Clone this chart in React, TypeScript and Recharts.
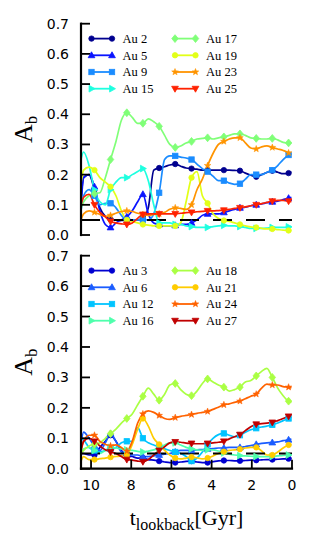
import React from 'react';
import { LineChart, Line, XAxis, YAxis, Legend } from 'recharts';

// lookback time grid (Gyr)
const TIME = [10.5, 10.37, 10.1, 9.83, 9.56, 9.29, 9.03, 8.76, 8.49, 8.22, 7.95, 7.68, 7.42, 7.15, 6.88, 6.61, 6.34, 6.08, 5.81, 5.54, 5.27, 5.0, 4.73, 4.46, 4.2, 3.93, 3.66, 3.39, 3.12, 2.86, 2.59, 2.32, 2.05, 1.78, 1.51, 1.25, 0.98, 0.71, 0.44, 0.17, 0.03];

// top panel
const AU2 = [0.12, 0.19, 0.2, 0.15, 0.09, 0.062, 0.052, 0.05, 0.048, 0.05, 0.05, 0.05, 0.055, 0.09, 0.215, 0.222, 0.226, 0.232, 0.235, 0.228, 0.222, 0.22, 0.218, 0.215, 0.215, 0.215, 0.215, 0.215, 0.215, 0.214, 0.213, 0.205, 0.198, 0.193, 0.2, 0.207, 0.213, 0.208, 0.203, 0.205, 0.21];
const AU5 = [0.09, 0.19, 0.2, 0.16, 0.08, 0.035, 0.025, 0.04, 0.05, 0.06, 0.08, 0.11, 0.135, 0.07, 0.04, 0.035, 0.03, 0.03, 0.032, 0.035, 0.035, 0.04, 0.05, 0.065, 0.07, 0.07, 0.07, 0.075, 0.08, 0.085, 0.09, 0.092, 0.097, 0.1, 0.103, 0.107, 0.11, 0.112, 0.117, 0.122, 0.125];
const AU9 = [0.08, 0.13, 0.15, 0.13, 0.1, 0.105, 0.105, 0.09, 0.065, 0.05, 0.05, 0.05, 0.05, 0.05, 0.07, 0.14, 0.25, 0.262, 0.262, 0.258, 0.255, 0.25, 0.235, 0.22, 0.21, 0.195, 0.18, 0.18, 0.172, 0.168, 0.17, 0.185, 0.2, 0.2, 0.2, 0.208, 0.215, 0.23, 0.25, 0.265, 0.27];
const AU15 = [0.25, 0.275, 0.23, 0.15, 0.11, 0.1, 0.15, 0.175, 0.19, 0.19, 0.2, 0.21, 0.22, 0.18, 0.1, 0.04, 0.04, 0.04, 0.035, 0.035, 0.03, 0.028, 0.025, 0.025, 0.025, 0.028, 0.03, 0.032, 0.03, 0.03, 0.028, 0.025, 0.022, 0.022, 0.022, 0.023, 0.025, 0.025, 0.025, 0.027, 0.028];
const AU17 = [0.09, 0.11, 0.13, 0.137, 0.14, 0.19, 0.25, 0.31, 0.38, 0.405, 0.39, 0.37, 0.37, 0.385, 0.375, 0.36, 0.33, 0.3, 0.29, 0.295, 0.305, 0.31, 0.318, 0.32, 0.322, 0.318, 0.322, 0.325, 0.33, 0.335, 0.335, 0.33, 0.322, 0.32, 0.318, 0.318, 0.32, 0.315, 0.307, 0.305, 0.305];
const AU19 = [0.17, 0.215, 0.225, 0.215, 0.19, 0.175, 0.16, 0.13, 0.08, 0.05, 0.045, 0.04, 0.035, 0.033, 0.03, 0.03, 0.03, 0.03, 0.03, 0.04, 0.11, 0.19, 0.21, 0.13, 0.105, 0.07, 0.055, 0.048, 0.045, 0.04, 0.035, 0.03, 0.027, 0.025, 0.022, 0.02, 0.02, 0.018, 0.016, 0.015, 0.015];
const AU23 = [0.05, 0.07, 0.08, 0.075, 0.068, 0.062, 0.065, 0.072, 0.078, 0.08, 0.078, 0.072, 0.068, 0.065, 0.068, 0.07, 0.075, 0.085, 0.09, 0.088, 0.085, 0.1, 0.15, 0.185, 0.23, 0.27, 0.3, 0.31, 0.318, 0.322, 0.322, 0.305, 0.288, 0.285, 0.292, 0.295, 0.29, 0.285, 0.28, 0.272, 0.265];
const AU25 = [0.1, 0.125, 0.135, 0.1, 0.075, 0.06, 0.045, 0.04, 0.037, 0.035, 0.04, 0.055, 0.068, 0.07, 0.07, 0.07, 0.07, 0.07, 0.07, 0.072, 0.074, 0.075, 0.077, 0.078, 0.08, 0.08, 0.081, 0.082, 0.085, 0.088, 0.09, 0.093, 0.097, 0.1, 0.104, 0.108, 0.112, 0.115, 0.115, 0.112, 0.11];

// bottom panel
const AU3 = [0.05, 0.05, 0.045, 0.045, 0.07, 0.09, 0.11, 0.09, 0.06, 0.045, 0.04, 0.035, 0.035, 0.03, 0.028, 0.025, 0.022, 0.02, 0.02, 0.022, 0.024, 0.025, 0.022, 0.02, 0.02, 0.023, 0.026, 0.027, 0.027, 0.026, 0.026, 0.027, 0.028, 0.028, 0.029, 0.03, 0.03, 0.031, 0.032, 0.033, 0.034];
const AU6 = [0.08, 0.12, 0.1, 0.075, 0.06, 0.085, 0.115, 0.09, 0.055, 0.05, 0.045, 0.045, 0.04, 0.04, 0.042, 0.045, 0.048, 0.05, 0.055, 0.06, 0.06, 0.06, 0.062, 0.063, 0.065, 0.066, 0.068, 0.068, 0.07, 0.07, 0.07, 0.073, 0.076, 0.08, 0.083, 0.085, 0.086, 0.088, 0.092, 0.095, 0.097];
const AU12 = [0.1, 0.095, 0.07, 0.06, 0.055, 0.06, 0.065, 0.07, 0.085, 0.09, 0.09, 0.135, 0.1, 0.085, 0.078, 0.072, 0.065, 0.06, 0.055, 0.05, 0.04, 0.025, 0.035, 0.055, 0.08, 0.1, 0.112, 0.116, 0.11, 0.105, 0.11, 0.12, 0.128, 0.133, 0.137, 0.14, 0.144, 0.15, 0.158, 0.165, 0.17];
const AU16 = [0.05, 0.065, 0.07, 0.06, 0.05, 0.06, 0.07, 0.068, 0.065, 0.062, 0.06, 0.057, 0.055, 0.058, 0.062, 0.068, 0.078, 0.085, 0.085, 0.078, 0.07, 0.065, 0.062, 0.06, 0.062, 0.062, 0.058, 0.052, 0.048, 0.045, 0.043, 0.042, 0.041, 0.04, 0.04, 0.04, 0.04, 0.042, 0.044, 0.045, 0.045];
const AU18 = [0.05, 0.06, 0.075, 0.08, 0.085, 0.1, 0.115, 0.13, 0.15, 0.165, 0.18, 0.21, 0.238, 0.265, 0.245, 0.225, 0.245, 0.275, 0.28, 0.26, 0.245, 0.24, 0.255, 0.28, 0.295, 0.285, 0.275, 0.268, 0.255, 0.26, 0.268, 0.285, 0.29, 0.305, 0.32, 0.33, 0.3, 0.265, 0.24, 0.222, 0.218];
const AU21 = [0.025, 0.04, 0.03, 0.03, 0.033, 0.035, 0.038, 0.04, 0.042, 0.045, 0.08, 0.13, 0.165, 0.14, 0.1, 0.08, 0.06, 0.045, 0.035, 0.032, 0.035, 0.038, 0.036, 0.032, 0.035, 0.042, 0.05, 0.056, 0.06, 0.062, 0.064, 0.068, 0.07, 0.07, 0.058, 0.045, 0.045, 0.055, 0.068, 0.078, 0.08];
const AU24 = [0.06, 0.09, 0.11, 0.11, 0.09, 0.08, 0.075, 0.078, 0.07, 0.058, 0.09, 0.15, 0.18, 0.19, 0.185, 0.175, 0.165, 0.162, 0.168, 0.172, 0.175, 0.178, 0.182, 0.185, 0.188, 0.195, 0.202, 0.21, 0.213, 0.218, 0.222, 0.23, 0.238, 0.245, 0.265, 0.278, 0.275, 0.275, 0.27, 0.268, 0.265];
const AU27 = [0.06, 0.09, 0.1, 0.09, 0.075, 0.062, 0.055, 0.05, 0.04, 0.03, 0.028, 0.025, 0.023, 0.03, 0.045, 0.06, 0.072, 0.085, 0.088, 0.087, 0.084, 0.083, 0.082, 0.082, 0.083, 0.085, 0.087, 0.09, 0.098, 0.105, 0.112, 0.125, 0.138, 0.146, 0.148, 0.15, 0.152, 0.158, 0.165, 0.172, 0.175];

const TOP_NAMES = ['Au 2', 'Au 5', 'Au 9', 'Au 15', 'Au 17', 'Au 19', 'Au 23', 'Au 25'];
const TOP_VALUES = [AU2, AU5, AU9, AU15, AU17, AU19, AU23, AU25];
const BOTTOM_NAMES = ['Au 3', 'Au 6', 'Au 12', 'Au 16', 'Au 18', 'Au 21', 'Au 24', 'Au 27'];
const BOTTOM_VALUES = [AU3, AU6, AU12, AU16, AU18, AU21, AU24, AU27];

// threshold line
const REF_T = [10.5, 0];
const REF_V = [0.05, 0.05];

const X_TICKS = [0, 2, 4, 6, 8, 10];
const Y_TICKS = [0, 0.1, 0.2, 0.3, 0.4, 0.5, 0.6, 0.7];

const STYLE: Record<string, { color: string; marker: string }> = {
  'Au 2': { color: '#00008f', marker: 'circle' },
  'Au 3': { color: '#0000d0', marker: 'circle' },
  'Au 5': { color: '#0a14ff', marker: 'triUp' },
  'Au 6': { color: '#1a5cff', marker: 'triUp' },
  'Au 9': { color: '#1a8cff', marker: 'square' },
  'Au 12': { color: '#00c4ff', marker: 'square' },
  'Au 15': { color: '#1effe0', marker: 'triRight' },
  'Au 16': { color: '#4effac', marker: 'triRight' },
  'Au 17': { color: '#80ff78', marker: 'diamond' },
  'Au 18': { color: '#aaff44', marker: 'diamond' },
  'Au 19': { color: '#e2ff18', marker: 'circle' },
  'Au 21': { color: '#ffcc00', marker: 'circle' },
  'Au 23': { color: '#ff9400', marker: 'star' },
  'Au 24': { color: '#ff6200', marker: 'star' },
  'Au 25': { color: '#ff2200', marker: 'triDown' },
  'Au 27': { color: '#c00000', marker: 'triDown' },
};

const FRAME = { stroke: '#000', strokeWidth: 2.2, strokeLinecap: 'square' as const };
const TICKLINE = { stroke: '#000', strokeWidth: 1.8 };
const TICKFONT = { fill: '#000', fontSize: 14, fontFamily: 'DejaVu Sans' };
const SERIF = 'Liberation Serif';

function buildRows(names: string[], values: number[][]) {
  return TIME.map((t, i) => {
    const row: Record<string, number> = { t };
    names.forEach((n, k) => {
      row[n] = values[k][i];
    });
    return row;
  });
}
const REF_ROWS = REF_T.map((t, i) => ({ t, ref: REF_V[i] }));

function starPoints(cx: number, cy: number, R: number) {
  const pts: string[] = [];
  for (let k = 0; k < 10; k++) {
    const r = k % 2 === 0 ? R : R * 0.42;
    const a = -Math.PI / 2 + (k * Math.PI) / 5;
    pts.push(`${cx + r * Math.cos(a)},${cy + r * Math.sin(a)}`);
  }
  return pts.join(' ');
}

function Marker({ type, cx, cy, color }: { type: string; cx: number; cy: number; color: string }) {
  const s = 2.7;
  const common = { fill: color, stroke: color, strokeWidth: 0.8 };
  switch (type) {
    case 'circle':
      return <circle cx={cx} cy={cy} r={s} {...common} />;
    case 'square':
      return <rect x={cx - s} y={cy - s} width={2 * s} height={2 * s} {...common} />;
    case 'triUp':
      return <polygon points={`${cx},${cy - s * 1.3} ${cx - s * 1.25},${cy + s * 0.9} ${cx + s * 1.25},${cy + s * 0.9}`} {...common} />;
    case 'triDown':
      return <polygon points={`${cx},${cy + s * 1.3} ${cx - s * 1.25},${cy - s * 0.9} ${cx + s * 1.25},${cy - s * 0.9}`} {...common} />;
    case 'triRight':
      return <polygon points={`${cx + s * 1.3},${cy} ${cx - s * 0.9},${cy - s * 1.25} ${cx - s * 0.9},${cy + s * 1.25}`} {...common} />;
    case 'diamond':
      return <polygon points={`${cx},${cy - s * 1.45} ${cx + s * 1.2},${cy} ${cx},${cy + s * 1.45} ${cx - s * 1.2},${cy}`} {...common} />;
    case 'star':
      return <polygon points={starPoints(cx, cy, s * 1.3)} fill={color} stroke={color} strokeWidth={0.5} />;
    default:
      return null;
  }
}

const makeDot = (name: string) => (props: any) => {
  const { cx, cy, index } = props;
  const key = `dot-${name}-${index}`;
  if (cx == null || cy == null || index === 0 || index % 3 !== 0) return <g key={key} />;
  const st = STYLE[name];
  return (
    <g key={key}>
      <Marker type={st.marker} cx={cx} cy={cy} color={st.color} />
    </g>
  );
};

const makeLegend = (names: string[]) => (props: any) => {
  const payload = (props.payload || [])
    .filter((p: any) => names.includes(p.value))
    .sort((a: any, b: any) => names.indexOf(a.value) - names.indexOf(b.value));
  return (
    <svg width={200} height={80} style={{ display: 'block', overflow: 'visible' }}>
      {payload.map((p: any, i: number) => {
        const st = STYLE[p.value];
        const col = Math.floor(i / 4);
        const row = i % 4;
        const x0 = col === 0 ? 10.5 : 94;
        const y = 14.6 + row * 16.7;
        return (
          <g key={p.value}>
            <line x1={x0} y1={y} x2={x0 + 20.5} y2={y} stroke={st.color} strokeWidth={1.8} />
            <Marker type={st.marker} cx={x0} cy={y} color={st.color} />
            <Marker type={st.marker} cx={x0 + 20.5} cy={y} color={st.color} />
            <text x={x0 + 31} y={y + 4.2} fontFamily={SERIF} fontSize={12.5} fill="#000">
              {p.value}
            </text>
          </g>
        );
      })}
    </svg>
  );
};

const YTitle = (props: any) => {
  const vb = props.viewBox || { x: 0, y: 23.7, width: 81, height: 211 };
  const cy = vb.y + vb.height / 2;
  const x = 32;
  return (
    <text transform={`rotate(-90 ${x} ${cy})`} x={x} y={cy} textAnchor="middle" fontFamily={SERIF} fontSize={26} fill="#000">
      A<tspan fontSize={17} dy={5}>b</tspan>
    </text>
  );
};

const XTitle = (props: any) => {
  const vb = props.viewBox || { x: 81, y: 223.7, width: 211, height: 40 };
  const cx = vb.x + vb.width / 2;
  const y = vb.y + 56.3;
  return (
    <text x={cx} y={y} textAnchor="middle" fontFamily={SERIF} fontSize={22} fill="#000">
      t<tspan fontSize={16} dy={5}>lookback</tspan>
      <tspan dy={-5}>[Gyr]</tspan>
    </text>
  );
};

function Panel({ names, values, height, margin, bottomHeight, showX }: { names: string[]; values: number[][]; height: number; margin: any; bottomHeight: number; showX: boolean }) {
  const rows = buildRows(names, values);
  return (
    <LineChart width={319} height={height} data={rows} margin={margin}>
      <XAxis
        xAxisId="b"
        dataKey="t"
        type="number"
        domain={[0, 10.5]}
        allowDataOverflow
        reversed
        ticks={X_TICKS}
        interval={0}
        height={bottomHeight}
        axisLine={FRAME}
        tickLine={TICKLINE}
        tickSize={-9}
        tickMargin={20}
        tick={TICKFONT}
        tickFormatter={(v: number) => (showX ? String(v) : '')}
        label={showX ? <XTitle /> : undefined}
      />
      <XAxis
        xAxisId="t"
        orientation="top"
        dataKey="t"
        type="number"
        domain={[0, 10.5]}
        allowDataOverflow
        reversed
        ticks={X_TICKS}
        interval={0}
        height={0}
        axisLine={FRAME}
        tickLine={TICKLINE}
        tickSize={-9}
        tickFormatter={() => ''}
      />
      <YAxis
        yAxisId="l"
        type="number"
        domain={[0, 0.7]}
        allowDataOverflow
        ticks={Y_TICKS}
        interval={0}
        width={81}
        axisLine={FRAME}
        tickLine={TICKLINE}
        tickSize={-9}
        tickMargin={21}
        tick={TICKFONT}
        tickFormatter={(v: number) => v.toFixed(1)}
        label={<YTitle />}
      />
      <YAxis
        yAxisId="r"
        orientation="right"
        type="number"
        domain={[0, 0.7]}
        allowDataOverflow
        ticks={Y_TICKS}
        interval={0}
        width={0}
        axisLine={FRAME}
        tickLine={TICKLINE}
        tickSize={-9}
        tickFormatter={() => ''}
      />
      {names.map((n) => (
        <Line
          key={n}
          xAxisId="b"
          yAxisId="l"
          type="monotone"
          dataKey={n}
          name={n}
          stroke={STYLE[n].color}
          strokeWidth={1.7}
          dot={makeDot(n)}
          activeDot={false}
          isAnimationActive={false}
        />
      ))}
      <Line
        xAxisId="b"
        yAxisId="l"
        data={REF_ROWS}
        dataKey="ref"
        stroke="#000"
        strokeWidth={2}
        strokeDasharray="19 14"
        dot={false}
        activeDot={false}
        legendType="none"
        isAnimationActive={false}
      />
      <Legend
        layout="horizontal"
        verticalAlign="middle"
        align="center"
        content={makeLegend(names)}
        wrapperStyle={{ left: 81, top: margin.top, width: 200, height: 80 }}
      />
    </LineChart>
  );
}

export default function App() {
  return (
    <div style={{ position: 'absolute', left: 0, top: 0, width: 319, height: 558, background: '#fff' }}>
      <div style={{ position: 'absolute', left: 0, top: 0 }}>
        <Panel
          names={TOP_NAMES}
          values={TOP_VALUES}
          height={245}
          margin={{ top: 23.7, right: 27, bottom: 10, left: 0 }}
          bottomHeight={0}
          showX={false}
        />
      </div>
      <div style={{ position: 'absolute', left: 0, top: 245 }}>
        <Panel
          names={BOTTOM_NAMES}
          values={BOTTOM_VALUES}
          height={313}
          margin={{ top: 10.7, right: 27, bottom: 49.3, left: 0 }}
          bottomHeight={40}
          showX={true}
        />
      </div>
    </div>
  );
}
